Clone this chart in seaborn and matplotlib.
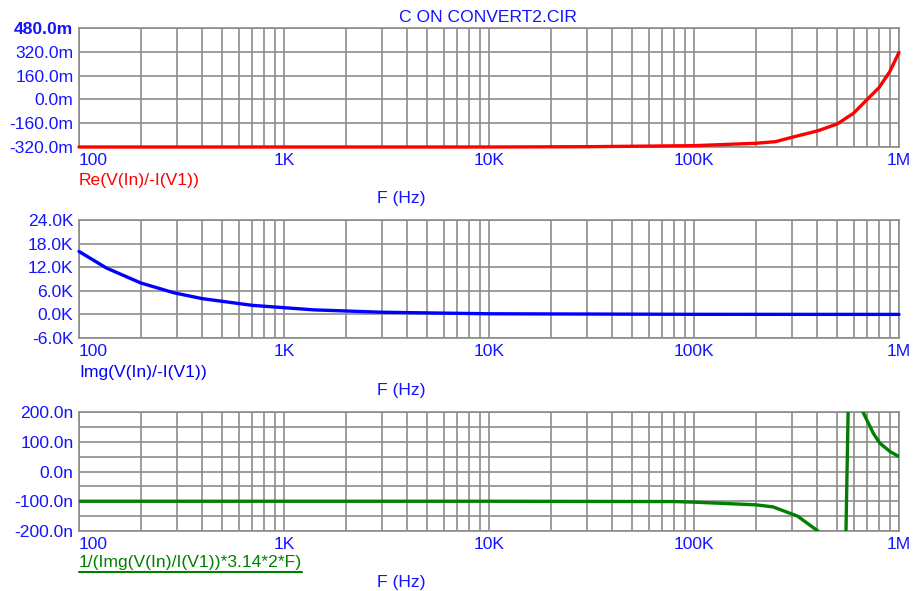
import matplotlib
matplotlib.use("Agg")
import matplotlib.pyplot as plt
import matplotlib.ticker as mticker
from matplotlib.lines import Line2D
import seaborn as sns

# values (frequency in Hz)
freq_re = [100, 1e3, 1e4, 3e4, 5e4, 1e5, 2e5, 2.5e5, 3e5, 4e5, 5e5, 6e5, 7e5, 8e5, 9e5, 1e6]
re_milli = [-320, -320, -320, -318, -315, -311, -295, -284, -255, -212, -165, -93, 0, 80, 185, 316]

freq_im = [100, 136, 200, 290, 400, 700, 1.4e3, 3e3, 1e4, 1e5, 1e6]
im_kilo = [16.0, 11.8, 8.0, 5.5, 4.0, 2.3, 1.15, 0.55, 0.16, 0.02, 0.0]

freq_c = [100, 1e3, 1e4, 8e4, 1e5, 2e5, 2.43e5, 3.2e5, 4.02e5, 4.8e5, 5.48e5,
          5.68e5, 6.6e5, 6.67e5, 7.5e5, 8.07e5, 9.04e5, 1e6]
c_nano = [-100, -100, -100, -101, -103, -112, -119, -150, -200, -600, -300,
          300, 250, 200, 128, 95, 67, 50]

x_ticks = [1e2, 1e3, 1e4, 1e5, 1e6]
x_labels = ["100", "1K", "10K", "100K", "1M"]

re_ticks = [-320, -160, 0, 160, 320, 480]
im_ticks = [-6, 0, 6, 12, 18, 24]
c_ticks = [-200, -100, 0, 100, 200]

title = "C ON CONVERT2.CIR"
trace_labels = ["Re(V(In)/-I(V1))", "Img(V(In)/-I(V1))", "1/(Img(V(In)/I(V1))*3.14*2*F)"]

sns.set_theme(style="white")
plt.rcParams["font.family"] = ["Liberation Sans", "DejaVu Sans"]

W, H = 914, 591
FS = 12.6
BLUE = "#1414ff"
GRID = "#8c8c8c"
fig = plt.figure(figsize=(W / 100, H / 100), dpi=100)


def px_axes(top, bottom, left=79, right=899):
    return fig.add_axes([left / W, 1 - bottom / H, (right - left) / W, (bottom - top) / H])


def style_axes(ax, yticks, suffix, minor_step=None):
    ax.set_xscale("log")
    ax.set_xlim(100, 1e6)
    ax.set_xticks(x_ticks)
    ax.set_xticklabels(x_labels)
    ax.xaxis.set_minor_locator(mticker.LogLocator(base=10, subs=range(2, 10)))
    ax.xaxis.set_minor_formatter(mticker.NullFormatter())
    ax.set_ylim(yticks[0], yticks[-1])
    ax.set_yticks(yticks)
    ax.set_yticklabels([f"{v:.1f}{suffix}" for v in yticks])
    if minor_step:
        ax.yaxis.set_minor_locator(mticker.MultipleLocator(minor_step))
    ax.tick_params(which="both", length=0, labelsize=FS, labelcolor=BLUE)
    ax.tick_params(axis="x", pad=4)
    ax.tick_params(axis="y", pad=4)
    ax.grid(which="both", color=GRID, lw=1.2)
    for s in ax.spines.values():
        s.set_color(GRID)
        s.set_linewidth(1.2)
    ax.get_xticklabels()[0].set_ha("left")
    ax.set_xlabel("")
    ax.set_ylabel("")


ax1 = px_axes(28, 147)
sns.lineplot(x=freq_re, y=re_milli, ax=ax1, color="#ff0000", lw=2.4,
             sort=False, estimator=None, clip_on=False, zorder=5)
style_axes(ax1, re_ticks, "m")
ax1.get_yticklabels()[-1].set_fontweight("bold")

ax2 = px_axes(220, 338)
sns.lineplot(x=freq_im, y=im_kilo, ax=ax2, color="#0000ff", lw=2.4,
             sort=False, estimator=None, clip_on=False, zorder=5)
style_axes(ax2, im_ticks, "K")

ax3 = px_axes(412, 531)
sns.lineplot(x=freq_c, y=c_nano, ax=ax3, color="#008000", lw=2.4,
             sort=False, estimator=None, zorder=5)
style_axes(ax3, c_ticks, "n", minor_step=50)


def ftext(x, y, s, **kw):
    return fig.text(x / W, 1 - y / H, s, fontsize=FS, **kw)


ftext(488, 17, title, color=BLUE, ha="center", va="center")
for yy in (199, 390, 582):
    ftext(401, yy, "F (Hz)", color=BLUE, ha="center", va="center")

ftext(79, 180, trace_labels[0], color="#ff0000", ha="left", va="center")
ftext(79, 372, trace_labels[1], color="#0000ff", ha="left", va="center")
t3 = ftext(79, 562, trace_labels[2], color="#008000", ha="left", va="center")

# underline the third trace name
fig.canvas.draw()
bb = t3.get_window_extent()
fig.add_artist(Line2D([bb.x0 / W, bb.x1 / W], [(bb.y0 - 2) / H, (bb.y0 - 2) / H],
                      color="#008000", lw=1.5, transform=fig.transFigure))

fig.savefig("out.png", dpi=100)
